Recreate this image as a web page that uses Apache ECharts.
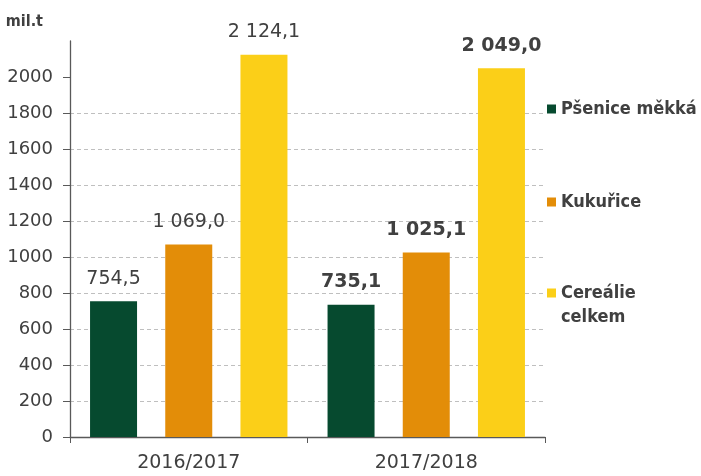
<!DOCTYPE html>
<html>
<head>
<meta charset="utf-8">
<script src="https://cdn.jsdelivr.net/npm/echarts@6/dist/echarts.min.js"></script>
<style>html,body{margin:0;padding:0;background:#fff}#c{width:701px;height:476px}</style>
</head>
<body>
<div id="c"></div>
<script>
const categories = ['2016/2017', '2017/2018'];
const seriesNames = ['Pšenice měkká', 'Kukuřice', 'Cereálie celkem'];
const wheat = [754.5, 735.1];
const maize = [1069.0, 1025.1];
const cereals = [2124.1, 2049.0];
const yTicks = [0, 200, 400, 600, 800, 1000, 1200, 1400, 1600, 1800, 2000];
const unitLabel = 'mil.t';

const colors = ['#064A2F', '#E38D08', '#FBCF18'];
const textColor = '#404040';

function fmt(v) {
  const parts = v.toFixed(1).split('.');
  const intPart = parts[0].replace(/\B(?=(\d{3})+(?!\d))/g, ' ');
  return intPart + ',' + parts[1];
}

function makeData(arr) {
  return arr.map((v, i) => i === 1 ? { value: v, label: { fontWeight: 'bold' } } : { value: v });
}

const allValues = [wheat, maize, cereals];

const chart = echarts.init(document.getElementById('c'), null, { renderer: 'canvas' });

const legendTops = [97, 190, 257];

chart.setOption({
  animation: false,
  color: colors,
  grid: { left: 70, right: 156, top: 41, bottom: 39, containLabel: false },
  legend: seriesNames.map((n, i) => ({
    data: [n],
    orient: 'vertical',
    left: 547,
    top: legendTops[i],
    padding: 0,
    icon: 'rect',
    itemWidth: 9,
    itemHeight: 9,
    itemGap: 0,
    selectedMode: false,
    formatter: (name) => name === 'Cereálie celkem' ? '\u00a0\nCereálie\ncelkem' : name,
    textStyle: {
      fontFamily: 'DejaVu Sans Condensed',
      fontWeight: 'bold',
      fontSize: 18,
      color: textColor,
      lineHeight: 24
    }
  })),
  xAxis: {
    type: 'category',
    data: categories,
    axisLine: { lineStyle: { color: '#595959', width: 1.3 } },
    axisTick: { show: true, length: 6, alignWithLabel: false, interval: 0, lineStyle: { color: '#595959' } },
    axisLabel: { fontFamily: 'DejaVu Sans', fontSize: 19, color: textColor, margin: 17 }
  },
  yAxis: {
    type: 'value',
    min: 0,
    max: 2200,
    interval: 200,
    name: unitLabel,
    nameLocation: 'end',
    nameGap: 11,
    nameTextStyle: {
      fontFamily: 'DejaVu Sans Condensed',
      fontWeight: 'bold',
      fontSize: 16,
      color: textColor,
      align: 'right',
      padding: [0, 27, 0, 0]
    },
    axisLine: { show: true, lineStyle: { color: '#595959', width: 1.3 } },
    axisTick: { show: true, length: 7, customValues: yTicks, lineStyle: { color: '#595959' } },
    axisLabel: {
      customValues: yTicks,
      formatter: (v) => String(v),
      fontFamily: 'DejaVu Sans',
      fontSize: 18,
      color: textColor,
      margin: 17
    },
    splitLine: {
      show: true,
      showMinLine: false,
      showMaxLine: false,
      lineStyle: { color: '#BFBFBF', type: [4, 3], width: 1 }
    }
  },
  series: seriesNames.map((n, i) => ({
    name: n,
    type: 'bar',
    data: makeData(allValues[i]),
    barWidth: 47,
    barGap: '60%',
    itemStyle: { color: colors[i] },
    label: {
      show: true,
      position: 'top',
      distance: 13,
      fontFamily: 'DejaVu Sans',
      fontSize: 19,
      color: textColor,
      formatter: (p) => fmt(p.value)
    }
  }))
});
</script>
</body>
</html>
